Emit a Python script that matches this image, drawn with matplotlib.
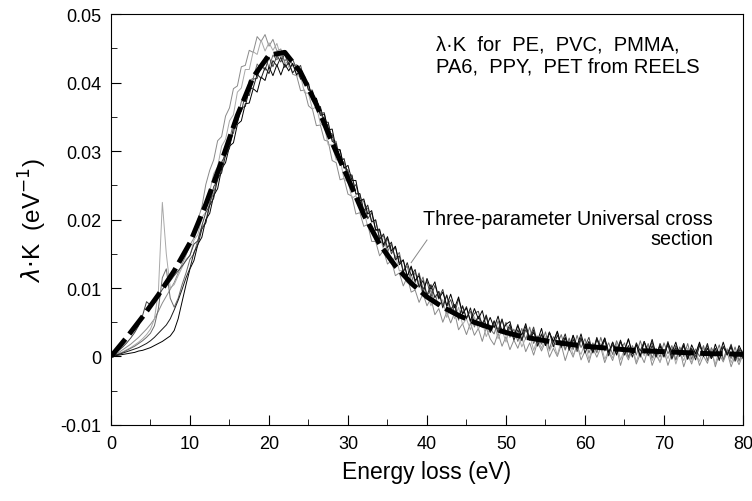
import numpy as np
import matplotlib.pyplot as plt
from matplotlib.ticker import MultipleLocator, FuncFormatter

plt.rcParams['font.family'] = ['Liberation Sans', 'DejaVu Sans']

# energy loss grid, 0.5 eV steps
energy = np.arange(0, 80.5, 0.5)

pe = [0, 0.0003, 0.0006, 0.001, 0.0014, 0.0018, 0.0023, 0.0028, 0.0034, 0.004,
      0.0047, 0.0055, 0.0066, 0.0078, 0.0088, 0.0098, 0.0108, 0.0122, 0.0135, 0.0148,
      0.0163, 0.0173, 0.0200, 0.0218, 0.0251, 0.0272, 0.0287, 0.0315, 0.0321, 0.0351,
      0.0363, 0.0391, 0.0395, 0.0423, 0.0425, 0.0447, 0.0444, 0.0467, 0.0460, 0.0470,
      0.0453, 0.0463, 0.0446, 0.0449, 0.0428, 0.0430, 0.0412, 0.0410, 0.0388, 0.0389,
      0.0366, 0.0361, 0.0337, 0.0338, 0.0316, 0.0314, 0.0286, 0.0283, 0.0258, 0.0260,
      0.0237, 0.0234, 0.0208, 0.0210, 0.0190, 0.0193, 0.0168, 0.0168, 0.0147, 0.0155,
      0.0135, 0.0140, 0.0118, 0.0122, 0.0103, 0.0116, 0.0094, 0.0097, 0.0079, 0.0092,
      0.0074, 0.0085, 0.0061, 0.0070, 0.0050, 0.0065, 0.0049, 0.0064, 0.0039, 0.0048,
      0.0032, 0.0049, 0.0031, 0.0041, 0.0022, 0.0042, 0.0026, 0.0017, 0.0034, 0.0015,
      0.0029, 0.0010, 0.0024, 0.0012, 0.0029, 0.0007, 0.0020, 0.0002, 0.0021, 0.0008,
      0.0022, -0.0001, 0.0012, 0.0000, 0.0017, -0.0006, 0.0012, -0.0001, 0.0018, -0.0005,
      0.0008, -0.0009, 0.0012, -0.0001, 0.0013, -0.0009, 0.0007, -0.0006, 0.0013, -0.0013,
      0.0007, -0.0005, 0.0010, -0.0011, 0.0004, -0.0009, 0.0012, -0.0013, 0.0002, -0.0008,
      0.0009, -0.0013, 0.0005, -0.0005, 0.0010, -0.0015, 0.0003, -0.0011, 0.0007, -0.0013,
      0.0001, -0.0010, 0.0010, -0.0015, 0.0004, -0.0008, 0.0007, -0.0015, 0.0001, -0.0012,
      0.0003]
pmma = [0, 0.0002, 0.0004, 0.0007, 0.001, 0.0013, 0.0017, 0.0021, 0.0026, 0.0032,
        0.0040, 0.0055, 0.0095, 0.0225, 0.0150, 0.0100, 0.0105, 0.0118, 0.0130, 0.0142,
        0.0147, 0.0170, 0.0178, 0.0203, 0.0211, 0.0241, 0.0267, 0.0277, 0.0307, 0.0317,
        0.0344, 0.0353, 0.0386, 0.0392, 0.0419, 0.0419, 0.0445, 0.0441, 0.0462, 0.0446,
        0.0458, 0.0447, 0.0457, 0.0437, 0.0442, 0.0422, 0.0427, 0.0410, 0.0409, 0.0385,
        0.0384, 0.0361, 0.0365, 0.0340, 0.0336, 0.0309, 0.0309, 0.0287, 0.0288, 0.0259,
        0.0255, 0.0231, 0.0235, 0.0215, 0.0214, 0.0189, 0.0191, 0.0167, 0.0177, 0.0156,
        0.0158, 0.0135, 0.0148, 0.0125, 0.0126, 0.0107, 0.0119, 0.0099, 0.0112, 0.0087,
        0.0094, 0.0074, 0.0090, 0.0074, 0.0083, 0.0057, 0.0072, 0.0055, 0.0072, 0.0047,
        0.0055, 0.0039, 0.0058, 0.0040, 0.0050, 0.0029, 0.0043, 0.0048, 0.0026, 0.0039,
        0.0021, 0.0042, 0.0024, 0.0035, 0.0014, 0.0027, 0.0032, 0.0009, 0.0026, 0.0012,
        0.0029, 0.0008, 0.0020, 0.0002, 0.0023, 0.0009, 0.0025, 0.0002, 0.0014, 0.0003,
        0.0020, -0.0004, 0.0015, 0.0005, 0.0019, -0.0004, 0.0009, -0.0002, 0.0019, -0.0005,
        0.0011, -0.0002, 0.0014, -0.0008, 0.0011, 0.0001, 0.0016, -0.0006, 0.0007, -0.0009,
        0.0011, -0.0003, 0.0013, -0.0011, 0.0007, -0.0006, 0.0012, -0.0009, 0.0005, -0.0007,
        0.0013, -0.0005, 0.0008, -0.0011, 0.0010, -0.0003, 0.0012, -0.0009, 0.0006, -0.0008,
        0.0004]
pa6 = [0, 0.0002, 0.0004, 0.0006, 0.0009, 0.0012, 0.0015, 0.0019, 0.0023, 0.0028,
       0.0034, 0.0045, 0.0070, 0.0115, 0.0128, 0.0085, 0.0072, 0.0085, 0.0105, 0.0122,
       0.0142, 0.0150, 0.0170, 0.0189, 0.0196, 0.0226, 0.0238, 0.0264, 0.0274, 0.0304,
       0.0315, 0.0342, 0.0347, 0.0372, 0.0376, 0.0403, 0.0406, 0.0427, 0.0420, 0.0437,
       0.0422, 0.0440, 0.0433, 0.0443, 0.0431, 0.0440, 0.0424, 0.0426, 0.0405, 0.0407,
       0.0389, 0.0389, 0.0364, 0.0362, 0.0336, 0.0339, 0.0316, 0.0314, 0.0285, 0.0284,
       0.0258, 0.0264, 0.0238, 0.0237, 0.0211, 0.0217, 0.0196, 0.0200, 0.0173, 0.0176,
       0.0153, 0.0164, 0.0143, 0.0152, 0.0125, 0.0132, 0.0109, 0.0123, 0.0103, 0.0116,
       0.0089, 0.0097, 0.0077, 0.0095, 0.0075, 0.0089, 0.0063, 0.0075, 0.0053, 0.0074,
       0.0056, 0.0066, 0.0043, 0.0058, 0.0042, 0.0061, 0.0040, 0.0033, 0.0052, 0.0036,
       0.0050, 0.0028, 0.0040, 0.0022, 0.0041, 0.0025, 0.0043, 0.0019, 0.0030, 0.0018,
       0.0036, 0.0011, 0.0029, 0.0018, 0.0032, 0.0010, 0.0027, 0.0010, 0.0031, 0.0013,
       0.0026, 0.0005, 0.0020, 0.0006, 0.0028, 0.0008, 0.0020, 0.0003, 0.0023, 0.0009,
       0.0020, -0.0001, 0.0016, 0.0002, 0.0023, 0.0004, 0.0019, -0.0002, 0.0012, -0.0001,
       0.0020, 0.0004, 0.0016, -0.0005, 0.0014, 0.0000, 0.0019, -0.0004, 0.0011, 0.0000,
       0.0016, -0.0006, 0.0013, 0.0001, 0.0017, -0.0005, 0.0010, -0.0003, 0.0014, -0.0006,
       0.0008]
ppy = [0, 0.0004, 0.0009, 0.0014, 0.0020, 0.0027, 0.0035, 0.0045, 0.0060, 0.0080,
       0.0075, 0.0078, 0.0088, 0.0098, 0.0105, 0.0110, 0.0118, 0.0125, 0.0132, 0.0140,
       0.0148, 0.0164, 0.0169, 0.0191, 0.0210, 0.0221, 0.0248, 0.0257, 0.0284, 0.0294,
       0.0320, 0.0326, 0.0355, 0.0358, 0.0382, 0.0381, 0.0405, 0.0406, 0.0426, 0.0418,
       0.0437, 0.0423, 0.0439, 0.0430, 0.0442, 0.0426, 0.0434, 0.0419, 0.0425, 0.0401,
       0.0396, 0.0373, 0.0377, 0.0355, 0.0356, 0.0327, 0.0325, 0.0297, 0.0301, 0.0276,
       0.0272, 0.0244, 0.0251, 0.0228, 0.0227, 0.0201, 0.0210, 0.0184, 0.0184, 0.0160,
       0.0172, 0.0150, 0.0160, 0.0137, 0.0141, 0.0117, 0.0130, 0.0108, 0.0122, 0.0098,
       0.0110, 0.0087, 0.0104, 0.0086, 0.0098, 0.0073, 0.0083, 0.0063, 0.0084, 0.0062,
       0.0073, 0.0050, 0.0063, 0.0066, 0.0045, 0.0058, 0.0036, 0.0052, 0.0039, 0.0055,
       0.0031, 0.0043, 0.0030, 0.0047, 0.0023, 0.0039, 0.0028, 0.0043, 0.0020, 0.0033,
       0.0016, 0.0035, 0.0020, 0.0036, 0.0013, 0.0026, 0.0014, 0.0031, 0.0007, 0.0025,
       0.0015, 0.0028, 0.0005, 0.0025, 0.0010, 0.0027, 0.0006, 0.0017, 0.0003, 0.0022,
       0.0008, 0.0025, 0.0004, 0.0018, -0.0001, 0.0021, 0.0007, 0.0021, 0.0000, 0.0015,
       0.0003, 0.0022, -0.0002, 0.0016, 0.0006, 0.0019, -0.0004, 0.0012, 0.0000, 0.0019,
       0.0002, 0.0016, -0.0003, 0.0012, -0.0006, 0.0015, 0.0003, 0.0018, -0.0003, 0.0012,
       0.0004]
pet = [0, 0.0001, 0.0002, 0.0003, 0.0004, 0.0005, 0.0006, 0.0008, 0.0009, 0.0011,
       0.0013, 0.0016, 0.0019, 0.0022, 0.0026, 0.0030, 0.0038, 0.0055, 0.0080, 0.0105,
       0.0128, 0.0140, 0.0164, 0.0174, 0.0200, 0.0209, 0.0235, 0.0245, 0.0274, 0.0283,
       0.0307, 0.0312, 0.0339, 0.0344, 0.0369, 0.0370, 0.0391, 0.0386, 0.0408, 0.0403,
       0.0423, 0.0410, 0.0426, 0.0411, 0.0427, 0.0417, 0.0428, 0.0411, 0.0419, 0.0402,
       0.0399, 0.0375, 0.0377, 0.0352, 0.0354, 0.0331, 0.0332, 0.0303, 0.0302, 0.0275,
       0.0279, 0.0257, 0.0257, 0.0227, 0.0230, 0.0208, 0.0213, 0.0185, 0.0186, 0.0163,
       0.0175, 0.0154, 0.0161, 0.0134, 0.0141, 0.0117, 0.0132, 0.0111, 0.0118, 0.0092,
       0.0114, 0.0098, 0.0109, 0.0084, 0.0094, 0.0074, 0.0091, 0.0071, 0.0087, 0.0062,
       0.0071, 0.0052, 0.0070, 0.0055, 0.0067, 0.0043, 0.0057, 0.0042, 0.0059, 0.0036,
       0.0047, 0.0051, 0.0029, 0.0045, 0.0031, 0.0048, 0.0024, 0.0035, 0.0023, 0.0041,
       0.0016, 0.0035, 0.0022, 0.0037, 0.0015, 0.0028, 0.0011, 0.0031, 0.0015, 0.0033,
       0.0011, 0.0022, 0.0006, 0.0026, 0.0014, 0.0027, 0.0006, 0.0021, 0.0002, 0.0022,
       0.0009, 0.0026, 0.0004, 0.0017, 0.0001, 0.0022, 0.0006, 0.0025, 0.0003, 0.0016,
       -0.0001, 0.0020, 0.0006, 0.0021, 0.0000, 0.0016, -0.0004, 0.0017, 0.0004, 0.0021,
       0.0000, 0.0012, -0.0003, 0.0018, 0.0001, 0.0021, 0.0002, 0.0014, -0.0003, 0.0016,
       0.0004]
pvc = [0, 0.0002, 0.0003, 0.0005, 0.0007, 0.0009, 0.0011, 0.0013, 0.0016, 0.0019,
       0.0023, 0.0028, 0.0034, 0.0040, 0.0046, 0.0055, 0.0068, 0.0082, 0.0098, 0.0115,
       0.0129, 0.0152, 0.0163, 0.0186, 0.0195, 0.0221, 0.0231, 0.0260, 0.0268, 0.0294,
       0.0304, 0.0334, 0.0341, 0.0363, 0.0365, 0.0390, 0.0392, 0.0412, 0.0406, 0.0422,
       0.0413, 0.0432, 0.0424, 0.0437, 0.0422, 0.0429, 0.0414, 0.0422, 0.0405, 0.0409,
       0.0389, 0.0387, 0.0361, 0.0365, 0.0342, 0.0342, 0.0314, 0.0311, 0.0284, 0.0289,
       0.0265, 0.0265, 0.0237, 0.0238, 0.0213, 0.0221, 0.0197, 0.0199, 0.0171, 0.0179,
       0.0159, 0.0167, 0.0141, 0.0147, 0.0123, 0.0137, 0.0118, 0.0127, 0.0101, 0.0111,
       0.0089, 0.0105, 0.0086, 0.0095, 0.0071, 0.0090, 0.0069, 0.0076, 0.0055, 0.0074,
       0.0055, 0.0071, 0.0047, 0.0059, 0.0048, 0.0060, 0.0035, 0.0052, 0.0035, 0.0054,
       0.0034, 0.0047, 0.0024, 0.0039, 0.0024, 0.0044, 0.0024, 0.0039, 0.0015, 0.0032,
       0.0019, 0.0036, 0.0014, 0.0031, 0.0018, 0.0033, 0.0009, 0.0025, 0.0011, 0.0028,
       0.0005, 0.0020, 0.0007, 0.0028, 0.0010, 0.0024, 0.0001, 0.0021, 0.0007, 0.0024,
       0.0002, 0.0016, -0.0001, 0.0020, 0.0008, 0.0022, 0.0001, 0.0016, -0.0001, 0.0019,
       0.0004, 0.0017, -0.0004, 0.0013, 0.0001, 0.0019, -0.0002, 0.0011, -0.0005, 0.0016,
       0.0003, 0.0019, -0.0003, 0.0012, -0.0005, 0.0014, 0.0003, 0.0016, -0.0007, 0.0010,
       -0.0003]

# three-parameter universal cross section, read every 2 eV
univ_e = list(range(0, 81, 2))
univ = [0, 0.0028, 0.0058, 0.0090, 0.0125, 0.0166, 0.0222, 0.0285, 0.0352, 0.0408,
        0.0440, 0.0444, 0.0415, 0.0368, 0.0312, 0.0260, 0.0207, 0.0164, 0.0132, 0.0107,
        0.0087, 0.0072, 0.0060, 0.0050, 0.0042, 0.0035, 0.0029, 0.0025, 0.0021, 0.0018,
        0.0015, 0.0013, 0.0011, 0.0009, 0.0008, 0.0007, 0.0006, 0.0005, 0.0004, 0.0004,
        0.0003]

spectra = [pe, pmma, pa6, ppy, pet, pvc]
colors = ['#8a8a8a', '#a8a8a8', '#6a6a6a', '#404040', '#000000', '#1a1a1a']

fig = plt.figure(figsize=(7.52, 5.02), dpi=100)
ax = fig.add_axes([0.1476, 0.1514, 0.8404, 0.8187])

for s, c in zip(spectra, colors):
    ax.plot(energy, s, color=c, lw=0.7)
ax.plot(univ_e, univ, color='black', lw=3.6, linestyle=(0, (4.5, 1.3)))

ax.set_xlim(0, 80)
ax.set_ylim(-0.01, 0.05)
ax.xaxis.set_major_locator(MultipleLocator(10))
ax.xaxis.set_minor_locator(MultipleLocator(5))
ax.yaxis.set_major_locator(MultipleLocator(0.01))
ax.yaxis.set_minor_locator(MultipleLocator(0.005))
ax.yaxis.set_major_formatter(FuncFormatter(lambda v, p: f"{v:g}" if abs(v) > 1e-9 else "0"))
ax.tick_params(which='both', direction='in', top=False, right=False, labelsize=13, pad=7)
ax.tick_params(which='major', length=7)
ax.tick_params(which='minor', length=4)

ax.set_xlabel("Energy loss (eV)", fontsize=16.5, labelpad=6)
ax.set_ylabel(r"$\lambda$$\cdot$K  (eV$^{-1}$)", fontsize=17.5, labelpad=8)

ax.text(41.2, 0.0470, "λ·K  for  PE,  PVC,  PMMA,\nPA6,  PPY,  PET from REELS",
        fontsize=14.5, va='top', ha='left', linespacing=1.2)
ax.text(76.2, 0.0216, "Three-parameter Universal cross\nsection",
        fontsize=14.2, va='top', ha='right', linespacing=1.1)
ax.plot([40.0, 38.0], [0.0170, 0.0137], color='#888888', lw=0.7)

fig.savefig("out.png", dpi=100)
